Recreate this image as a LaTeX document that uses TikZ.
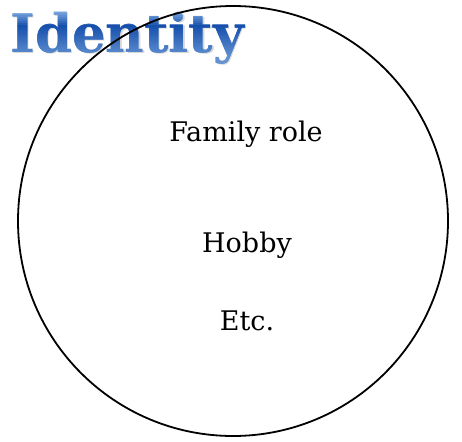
\documentclass[tikz,border=0pt]{standalone}
\usepackage{xcolor}
\usepackage{fontspec}
\setmainfont{DejaVu Serif}
\usepackage{tikz}

\definecolor{titledark}{RGB}{22,80,172}
\definecolor{titlelight}{RGB}{150,190,236}

\begin{document}
\begin{tikzpicture}[x=1pt, y=-1pt,
  item/.style={anchor=base, inner sep=0pt, font=\fontsize{27}{30}\selectfont},
  title/.style={anchor=base west, inner sep=0pt, font=\fontsize{53}{57}\selectfont\bfseries}]
  \useasboundingbox (0,0) rectangle (462,441);
  % title with a banded gradient
  \node[title, text=black!35, opacity=0.45] (t0) at (11.5,54) {Identity};
  \foreach \yy in {6,8,...,66}{
    \pgfmathtruncatemacro\pct{\yy<26 ? max(0,min(100,(\yy-8)*100/18)) : max(40,100-(\yy-26)*60/32)}
    \begin{scope}
      \clip (0,\yy) rectangle (462,\yy+2.3);
      \node[title, text=titledark!\pct!titlelight] at (10,52.5) {Identity};
    \end{scope}
  }
  \node[item] (j1) at (246,141) {Family role};
  \node[item] (j2) at (247,252) {Hobby};
  \node[item] (j3) at (247,330) {Etc.};
  \draw[line width=1.8pt] (233,221) circle (215);
\end{tikzpicture}
\end{document}
